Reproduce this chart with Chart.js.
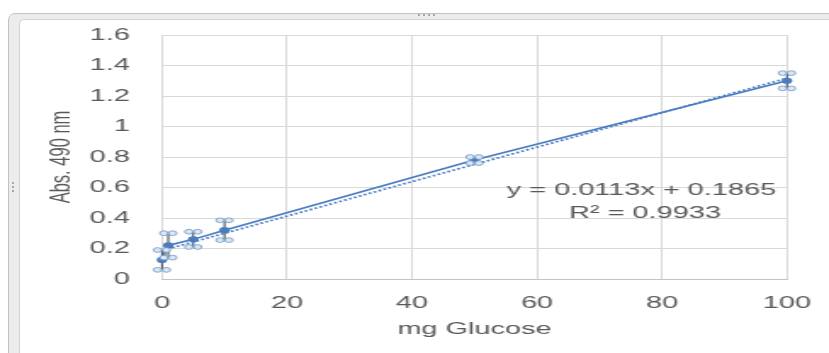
<!DOCTYPE html>
<html><head><meta charset="utf-8">
<script src="https://cdn.jsdelivr.net/npm/chart.js@4/dist/chart.umd.min.js"></script>
<style>
html,body{margin:0;padding:0;background:#fff;width:829px;height:353px;overflow:hidden;position:relative;}
#frame{position:absolute;left:8px;top:13px;width:860px;height:380px;background:#ececec;border:1px solid #c2c2c2;border-top-left-radius:7px;box-sizing:border-box;}
#inner{position:absolute;left:10px;top:5px;width:880px;height:400px;background:#fff;border:1px solid #d2d2d2;border-top-left-radius:5px;box-sizing:border-box;}
#hTop{position:absolute;left:418px;top:14px;width:18px;height:2px;background:repeating-linear-gradient(90deg,#a8a8a8 0 2px,transparent 2px 5px);}
#hLeft{position:absolute;left:12px;top:182px;width:2px;height:12px;background:repeating-linear-gradient(180deg,#a8a8a8 0 2px,transparent 2px 4px);}
#wrap{position:absolute;left:0;top:0;width:488px;height:353px;transform:scaleX(1.69877);transform-origin:0 0;}
</style></head>
<body>
<div id="frame"><div id="inner"></div></div>
<div id="hTop"></div><div id="hLeft"></div>
<div id="wrap"><canvas id="c" width="488" height="353"></canvas></div>
<script>
const glucoseMg = [0, 1, 5, 10, 50, 100];
const absorbance = [0.125, 0.22, 0.26, 0.32, 0.78, 1.30];
const absError = [0.065, 0.08, 0.05, 0.065, 0.02, 0.05];
const trendX = [0, 100];
const trendY = [0.1865, 1.3165];
const xTicks = [0, 20, 40, 60, 80, 100];
const yTicks = [0, 0.2, 0.4, 0.6, 0.8, 1, 1.2, 1.4, 1.6];
const eqLine1 = 'y = 0.0113x + 0.1865';
const eqLine2 = 'R\u00B2 = 0.9933';

const FONT = 'Liberation Sans';
const TXT = '#595959';
const BLUE = '#4a7cc0';

const errorBars = {
  id: 'errorBars',
  beforeDatasetsDraw(chart) {
    const {ctx, scales: {x, y}} = chart;
    ctx.save();
    ctx.strokeStyle = '#3f3f3f';
    ctx.lineWidth = 1;
    glucoseMg.forEach((gx, i) => {
      const px = x.getPixelForValue(gx);
      ctx.beginPath();
      ctx.moveTo(px, y.getPixelForValue(absorbance[i] + absError[i]));
      ctx.lineTo(px, y.getPixelForValue(absorbance[i] - absError[i]));
      ctx.stroke();
    });
    ctx.restore();
  },
  afterDatasetsDraw(chart) {
    const {ctx, scales: {x, y}} = chart;
    ctx.save();
    ctx.strokeStyle = '#6d95c4';
    ctx.fillStyle = '#dbe7f3';
    ctx.lineWidth = 0.8;
    glucoseMg.forEach((gx, i) => {
      const px = x.getPixelForValue(gx);
      [absorbance[i] + absError[i], absorbance[i] - absError[i]].forEach(v => {
        const py = y.getPixelForValue(v);
        [-2.6, 2.6].forEach(dx => {
          ctx.beginPath();
          ctx.arc(px + dx, py, 2.4, 0, Math.PI * 2);
          ctx.fill();
          ctx.stroke();
        });
      });
    });
    ctx.restore();
  },
  afterDraw(chart) {
    const {ctx} = chart;
    ctx.save();
    ctx.font = '17px "' + FONT + '"';
    ctx.fillStyle = TXT;
    ctx.textAlign = 'center';
    ctx.textBaseline = 'middle';
    ctx.fillText(eqLine1, 377.6, 190);
    ctx.fillText(eqLine2, 379.7, 213);
    ctx.restore();
  }
};

new Chart(document.getElementById('c'), {
  type: 'scatter',
  data: {
    datasets: [
      {
        label: 'Linear',
        data: trendX.map((v, i) => ({x: v, y: trendY[i]})),
        showLine: true,
        borderColor: BLUE,
        borderWidth: 1.8,
        borderDash: [1.6, 1.6],
        pointRadius: 0,
        clip: false
      },
      {
        label: 'Abs',
        data: glucoseMg.map((v, i) => ({x: v, y: absorbance[i]})),
        showLine: true,
        borderColor: BLUE,
        backgroundColor: BLUE,
        borderWidth: 1.6,
        pointRadius: 3.1,
        pointBorderWidth: 0,
        pointBackgroundColor: BLUE,
        clip: false
      }
    ]
  },
  options: {
    responsive: false,
    animation: false,
    events: [],
    layout: {padding: {left: 0, right: 24.74, top: 35, bottom: 0}},
    plugins: {legend: {display: false}, tooltip: {enabled: false}},
    scales: {
      x: {
        type: 'linear', min: 0, max: 100,
        afterBuildTicks: s => { s.ticks = xTicks.map(v => ({value: v})); },
        afterFit: s => { s.height = 74; s.paddingLeft = 0; s.paddingRight = 0; },
        grid: {color: '#d9d9d9', lineWidth: 1, drawTicks: false},
        border: {color: '#c4c4c4', width: 1},
        ticks: {padding: 14, color: TXT, font: {family: FONT, size: 17}},
        title: {display: true, text: 'mg Glucose', color: TXT, font: {family: FONT, size: 17}, padding: {top: 0, bottom: 13}}
      },
      y: {
        type: 'linear', min: 0, max: 1.6,
        afterBuildTicks: s => { s.ticks = yTicks.map(v => ({value: v})); },
        afterFit: s => { s.width = 95.36; s.paddingTop = 0; s.paddingBottom = 0; },
        grid: {color: '#d9d9d9', lineWidth: 1, drawTicks: false},
        border: {display: false},
        ticks: {padding: 19, color: TXT, font: {family: FONT, size: 17}, callback: v => String(Math.round(v * 10) / 10)},
        title: {display: true, text: 'Abs. 490 nm', color: TXT, font: {family: FONT, size: 16.5}, padding: {top: 27, bottom: 0}}
      }
    }
  },
  plugins: [errorBars]
});
</script>
</body></html>
